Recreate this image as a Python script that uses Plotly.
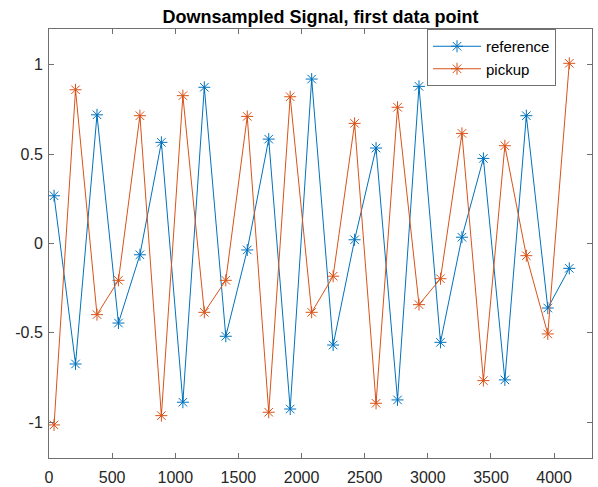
import plotly.graph_objects as go

x_start = 40
x_step = 170
n_points = 25
x_vals = [x_start + x_step * k for k in range(n_points)]

reference = [0.267, -0.674, 0.720, -0.445, -0.063, 0.566, -0.888, 0.874, -0.519, -0.036,
             0.584, -0.926, 0.920, -0.568, 0.021, 0.534, -0.875, 0.879, -0.553, 0.035,
             0.476, -0.763, 0.715, -0.361, -0.139]
pickup = [-1.015, 0.860, -0.398, -0.206, 0.715, -0.963, 0.827, -0.385, -0.206, 0.711,
          -0.944, 0.821, -0.385, -0.183, 0.672, -0.894, 0.762, -0.342, -0.197, 0.616,
          -0.767, 0.547, -0.068, -0.506, 1.008]

x_ticks = [0, 500, 1000, 1500, 2000, 2500, 3000, 3500, 4000]
y_ticks = [-1, -0.5, 0, 0.5, 1]
y_tick_labels = ["-1", "-0.5", "0", "0.5", "1"]

BLUE = "#0072BD"
ORANGE = "#D95319"
FONT = "Liberation Sans, Arial, Helvetica, sans-serif"

fig = go.Figure()
for name, vals, col in [("reference", reference, BLUE), ("pickup", pickup, ORANGE)]:
    fig.add_trace(go.Scatter(
        x=x_vals, y=vals, name=name, mode="lines+markers",
        line=dict(color=col, width=1),
        marker=dict(symbol="asterisk-open", size=10, color=col, line=dict(color=col, width=1)),
    ))

axis_common = dict(
    showgrid=False, zeroline=False, showline=True, linecolor="#707070", linewidth=1,
    mirror="ticks", ticks="inside", ticklen=5, tickcolor="#707070", automargin=False,
    tickfont=dict(family=FONT, size=16, color="#262626"),
)
fig.update_xaxes(range=[0, 4300], tickvals=x_ticks, ticklabelstandoff=5, **axis_common)
fig.update_yaxes(range=[-1.2, 1.2], tickvals=y_ticks, ticktext=y_tick_labels,
                 ticklabelstandoff=2, **axis_common)

fig.update_layout(
    width=598, height=487,
    margin=dict(l=49, r=6, t=29, b=29, autoexpand=False),
    paper_bgcolor="#ffffff", plot_bgcolor="#ffffff",
    title=dict(text="<b>Downsampled Signal, first data point</b>", x=(49 + 592) / 2 / 598,
               xanchor="center", y=1 - 17 / 487, yanchor="middle",
               font=dict(family=FONT, size=18, color="#000000")),
    legend=dict(x=(556 - 49) / 543, y=1.0, xanchor="right", yanchor="top",
                bgcolor="#ffffff", bordercolor="#707070", borderwidth=1,
                font=dict(family=FONT, size=15, color="#000000"),
                itemwidth=48, tracegroupgap=0),
    showlegend=True,
)

fig.write_html("out.html")
